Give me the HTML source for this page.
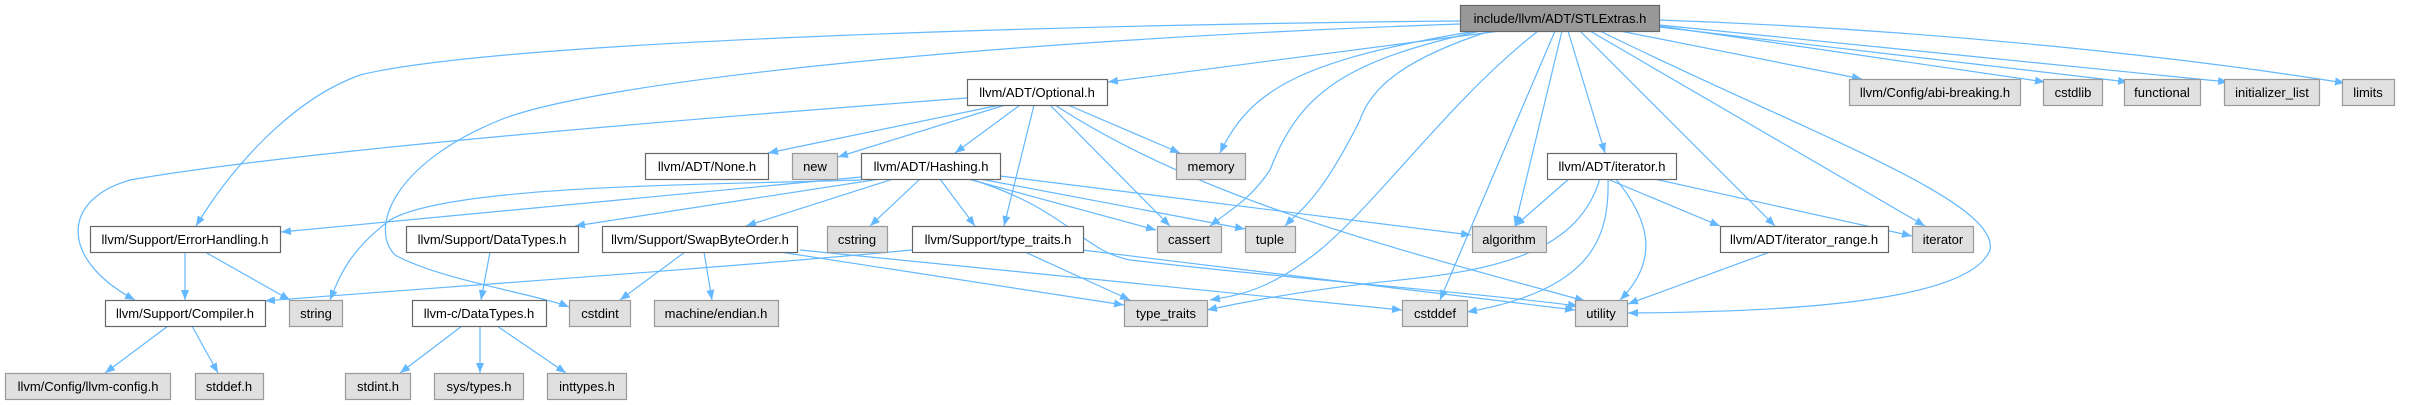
<!DOCTYPE html>
<html><head><meta charset="utf-8"><style>
html,body{margin:0;padding:0;background:#fff;}
svg{display:block;}
text{font-family:"Liberation Sans",Arial,sans-serif;font-size:13px;fill:#000;}
.e{fill:none;stroke:#63b8ff;stroke-width:1.2;marker-end:url(#a);}
.w{fill:#fff;stroke:#666;stroke-width:1.2;}
.g{fill:#e0e0e0;stroke:#999;stroke-width:1.2;}
.r{fill:#999;stroke:#666;stroke-width:1.2;}
</style></head><body>
<svg width="2413" height="405" viewBox="0 0 2413 405" xmlns="http://www.w3.org/2000/svg">
<defs><marker id="a" viewBox="0 0 10 8" refX="10" refY="4" markerWidth="10" markerHeight="8" markerUnits="userSpaceOnUse" orient="auto"><path d="M0,0 L10,4 L0,8 z" fill="#63b8ff"/></marker></defs>

<!-- edges from root -->
<path class="e" d="M1460,21 C1100,24 500,40 360,75 C290,100 230,170 196,226"/>
<path class="e" d="M1460,24 C1000,40 600,80 500,120 C390,165 370,230 395,255 C440,280 540,295 569,307"/>
<path class="e" d="M1500,31 L1108,82"/>
<path class="e" d="M1476,31 C1300,60 1250,90 1220,153"/>
<path class="e" d="M1480,31 C1350,60 1300,90 1270,170 C1250,200 1230,210 1210,226"/>
<path class="e" d="M1490,31 C1400,60 1370,90 1360,120 C1320,200 1300,210 1285,226"/>
<path class="e" d="M1538,31 C1450,100 1380,200 1320,250 C1270,290 1240,295 1210,300"/>
<path class="e" d="M1555,31 L1440,300"/>
<path class="e" d="M1562,31 L1515,226"/>
<path class="e" d="M1568,31 L1605,153"/>
<path class="e" d="M1580,31 L1775,226"/>
<path class="e" d="M1590,31 L1925,226"/>
<path class="e" d="M1600,31 C1800,130 2000,200 1990,250 C1970,300 1800,312 1628,313"/>
<path class="e" d="M1620,31 L1862,79"/>
<path class="e" d="M1659,26 L2045,82"/>
<path class="e" d="M1659,27 L2128,82"/>
<path class="e" d="M1659,25 L2228,82"/>
<path class="e" d="M1659,20 C1950,30 2200,60 2345,83"/>

<!-- Optional.h -->
<path class="e" d="M967,98 C700,118 300,150 130,180 C60,200 60,260 135,300"/>
<path class="e" d="M1000,105 L768,153"/>
<path class="e" d="M1005,105 L838,157"/>
<path class="e" d="M1020,105 L955,153"/>
<path class="e" d="M1034,105 L1004,226"/>
<path class="e" d="M1050,105 L1170,226"/>
<path class="e" d="M1055,105 C1200,200 1400,250 1585,301"/>
<path class="e" d="M1068,105 L1180,153"/>

<!-- Hashing.h -->
<path class="e" d="M861,177 L281,232"/>
<path class="e" d="M861,180 C700,185 450,185 390,220 C350,250 340,275 330,300"/>
<path class="e" d="M880,179 L575,226"/>
<path class="e" d="M893,179 L746,226"/>
<path class="e" d="M920,179 L870,226"/>
<path class="e" d="M940,179 L975,226"/>
<path class="e" d="M968,179 L1156,230"/>
<path class="e" d="M980,179 L1245,229"/>
<path class="e" d="M1000,176 L1471,235"/>
<path class="e" d="M970,179 C1070,210 1080,250 1130,260 C1300,280 1450,290 1578,306"/>

<!-- level 4 -->
<path class="e" d="M185,252 L185,300"/>
<path class="e" d="M205,252 L290,300"/>
<path class="e" d="M490,252 L481,300"/>
<path class="e" d="M685,252 L620,300"/>
<path class="e" d="M704,252 L712,300"/>
<path class="e" d="M780,252 L1124,305"/>
<path class="e" d="M800,250 L1402,310"/>
<path class="e" d="M912,250 C700,270 400,290 265,301"/>
<path class="e" d="M1025,252 L1130,300"/>
<path class="e" d="M1082,250 L1575,310"/>
<path class="e" d="M1570,178 L1515,226"/>
<path class="e" d="M1605,178 L1720,226"/>
<path class="e" d="M1650,178 L1912,236"/>
<path class="e" d="M1615,178 C1650,220 1660,260 1620,300"/>
<path class="e" d="M1608,178 C1610,240 1590,290 1467,312"/>
<path class="e" d="M1600,178 C1580,250 1500,270 1400,280 C1300,290 1230,305 1207,310"/>
<path class="e" d="M1770,252 L1628,304"/>

<!-- level 5 -->
<path class="e" d="M168,326 L105,373"/>
<path class="e" d="M192,326 L218,373"/>
<path class="e" d="M462,326 L400,373"/>
<path class="e" d="M480,326 L480,373"/>
<path class="e" d="M497,326 L566,373"/>

<!-- nodes -->
<rect class="r" x="1460.5" y="5.5" width="199" height="26"/><text x="1560" y="23" text-anchor="middle">include/llvm/ADT/STLExtras.h</text>

<rect class="w" x="967.5" y="79.5" width="140" height="26"/><text x="1037" y="97" text-anchor="middle">llvm/ADT/Optional.h</text>
<rect class="g" x="1849.5" y="79.5" width="171" height="26"/><text x="1935" y="97" text-anchor="middle">llvm/Config/abi-breaking.h</text>
<rect class="g" x="2043.5" y="79.5" width="59" height="26"/><text x="2073" y="97" text-anchor="middle">cstdlib</text>
<rect class="g" x="2124.5" y="79.5" width="76" height="26"/><text x="2162" y="97" text-anchor="middle">functional</text>
<rect class="g" x="2224.5" y="79.5" width="95" height="26"/><text x="2272" y="97" text-anchor="middle">initializer_list</text>
<rect class="g" x="2342.5" y="79.5" width="52" height="26"/><text x="2368" y="97" text-anchor="middle">limits</text>

<rect class="w" x="645.5" y="153.5" width="123" height="26"/><text x="707" y="171" text-anchor="middle">llvm/ADT/None.h</text>
<rect class="g" x="792.5" y="153.5" width="45" height="26"/><text x="815" y="171" text-anchor="middle">new</text>
<rect class="w" x="861.5" y="153.5" width="139" height="26"/><text x="931" y="171" text-anchor="middle">llvm/ADT/Hashing.h</text>
<rect class="g" x="1176.5" y="153.5" width="69" height="26"/><text x="1211" y="171" text-anchor="middle">memory</text>
<rect class="w" x="1547.5" y="153.5" width="129" height="26"/><text x="1612" y="171" text-anchor="middle">llvm/ADT/iterator.h</text>

<rect class="w" x="90.5" y="226.5" width="190" height="26"/><text x="185" y="244" text-anchor="middle">llvm/Support/ErrorHandling.h</text>
<rect class="w" x="406.5" y="226.5" width="172" height="26"/><text x="492" y="244" text-anchor="middle">llvm/Support/DataTypes.h</text>
<rect class="w" x="602.5" y="226.5" width="195" height="26"/><text x="700" y="244" text-anchor="middle">llvm/Support/SwapByteOrder.h</text>
<rect class="g" x="827.5" y="226.5" width="60" height="26"/><text x="857" y="244" text-anchor="middle">cstring</text>
<rect class="w" x="912.5" y="226.5" width="171" height="26"/><text x="998" y="244" text-anchor="middle">llvm/Support/type_traits.h</text>
<rect class="g" x="1157.5" y="226.5" width="64" height="26"/><text x="1189" y="244" text-anchor="middle">cassert</text>
<rect class="g" x="1245.5" y="226.5" width="50" height="26"/><text x="1270" y="244" text-anchor="middle">tuple</text>
<rect class="g" x="1472.5" y="226.5" width="74" height="26"/><text x="1509" y="244" text-anchor="middle">algorithm</text>
<rect class="w" x="1720.5" y="226.5" width="168" height="26"/><text x="1804" y="244" text-anchor="middle">llvm/ADT/iterator_range.h</text>
<rect class="g" x="1912.5" y="226.5" width="61" height="26"/><text x="1943" y="244" text-anchor="middle">iterator</text>

<rect class="w" x="105.5" y="300.5" width="160" height="26"/><text x="185" y="318" text-anchor="middle">llvm/Support/Compiler.h</text>
<rect class="g" x="289.5" y="300.5" width="53" height="26"/><text x="316" y="318" text-anchor="middle">string</text>
<rect class="w" x="412.5" y="300.5" width="134" height="26"/><text x="479" y="318" text-anchor="middle">llvm-c/DataTypes.h</text>
<rect class="g" x="569.5" y="300.5" width="61" height="26"/><text x="600" y="318" text-anchor="middle">cstdint</text>
<rect class="g" x="654.5" y="300.5" width="124" height="26"/><text x="716" y="318" text-anchor="middle">machine/endian.h</text>
<rect class="g" x="1124.5" y="300.5" width="83" height="26"/><text x="1166" y="318" text-anchor="middle">type_traits</text>
<rect class="g" x="1402.5" y="300.5" width="65" height="26"/><text x="1435" y="318" text-anchor="middle">cstddef</text>
<rect class="g" x="1575.5" y="300.5" width="52" height="26"/><text x="1601" y="318" text-anchor="middle">utility</text>

<rect class="g" x="5.5" y="373.5" width="165" height="26"/><text x="88" y="391" text-anchor="middle">llvm/Config/llvm-config.h</text>
<rect class="g" x="195.5" y="373.5" width="68" height="26"/><text x="229" y="391" text-anchor="middle">stddef.h</text>
<rect class="g" x="345.5" y="373.5" width="65" height="26"/><text x="378" y="391" text-anchor="middle">stdint.h</text>
<rect class="g" x="434.5" y="373.5" width="89" height="26"/><text x="479" y="391" text-anchor="middle">sys/types.h</text>
<rect class="g" x="547.5" y="373.5" width="79" height="26"/><text x="587" y="391" text-anchor="middle">inttypes.h</text>
</svg>
</body></html>
